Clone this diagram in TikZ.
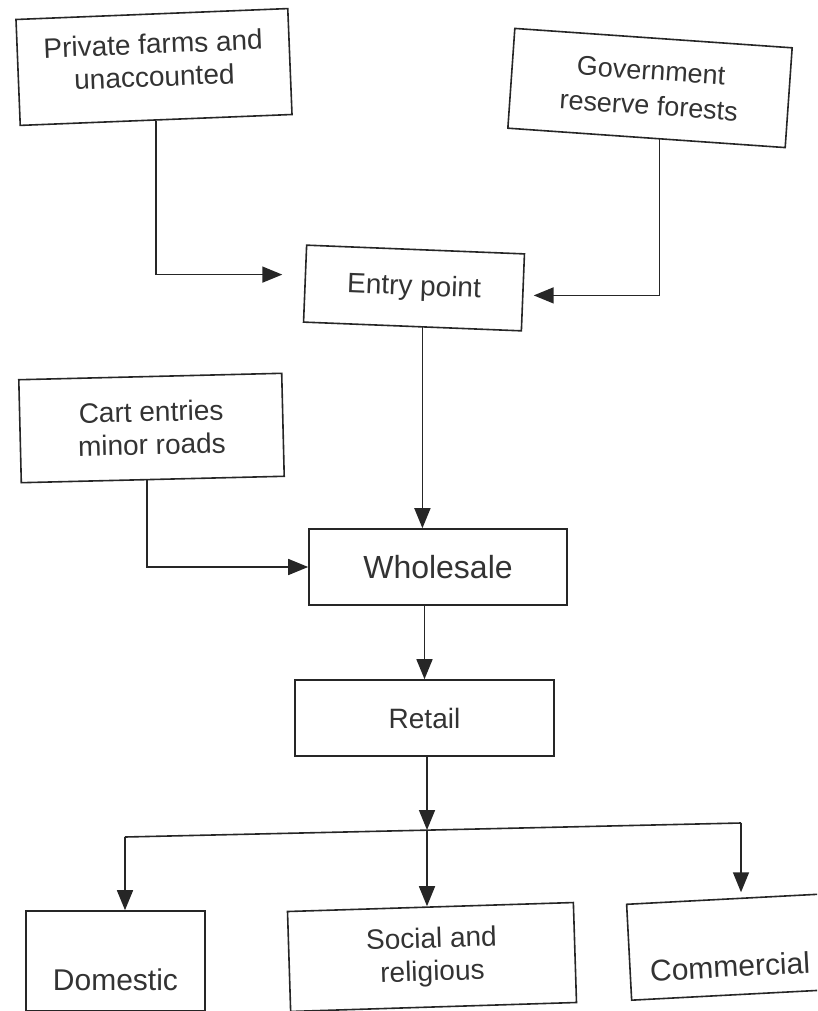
\documentclass[tikz,border=0pt]{standalone}
\usepackage{fontspec}
\setmainfont{Liberation Sans}
\usetikzlibrary{arrows.meta,calc}
\begin{document}
\begin{tikzpicture}[x=1pt,y=-1pt,
  box/.style={draw=black!85, line width=1.6pt, rectangle, align=center, text=black!80,
              font=\fontsize{28}{33}\selectfont, inner sep=2pt},
  conn/.style={draw=black!85, line width=1.6pt},
  arr/.style={conn, -{Triangle[length=20pt,width=16pt]}}]
\useasboundingbox (0,0) rectangle (817,1011);
\clip (0,0) rectangle (817,1011);

\node[box, minimum width=272pt, minimum height=106pt, rotate=2.3, text depth=14pt] (pf) at (154,67) {Private farms and\\unaccounted};
\node[box, minimum width=278pt, minimum height=100pt, rotate=-4, font=\fontsize{27}{35}\selectfont] (gov) at (650,88) {Government\\reserve forests};
\node[box, minimum width=218pt, minimum height=77pt, rotate=-2.3] (ep) at (414,288) {Entry point};
\node[box, minimum width=263pt, minimum height=103pt, rotate=1.4] (cart) at (151.5,428) {Cart entries\\minor roads};
\node[box, minimum width=258pt, minimum height=76pt, font=\fontsize{32}{38}\selectfont] (ws) at (438,567) {Wholesale};
\node[box, minimum width=259pt, minimum height=76pt] (rt) at (424.5,718) {Retail};
\node[box, minimum width=179pt, minimum height=100pt, font=\fontsize{30}{35}\selectfont, text height=58pt, text depth=0pt] (dom) at (115.5,961) {Domestic};
\node[box, minimum width=286pt, minimum height=100pt, rotate=1.8] (soc) at (432,957) {Social and\\religious};
\node[box, minimum width=200pt, minimum height=96pt, rotate=3, font=\fontsize{30}{35}\selectfont, text height=60pt, text depth=0pt] (com) at (729,947) {Commercial};

% connectors
\draw[arr, shorten >=22pt] (pf.south) |- ([yshift=9pt]ep.west);
\coordinate (g1) at ([xshift=13pt]gov.south);
\draw[arr, shorten >=10pt] (g1) |- ([yshift=-3pt]ep.east);
\coordinate (e1) at ([xshift=10pt]ep.south);
\draw[arr] (e1) -- (e1 |- ws.north);
\coordinate (c1) at ([xshift=-6pt]cart.south);
\draw[arr] (c1) |- (ws.west);
\draw[arr] (ws.south -| rt.north) -- (rt.north);

\coordinate (bl) at (125,837);
\coordinate (br) at (741,823);
\coordinate (bm) at (427,830);
\draw[arr] (rt.south -| bm) -- (bm);
\draw[conn] (bl) -- (br);
\draw[arr] (bl) -- (bl |- dom.north);
\draw[arr] (bm) -- (bm |- soc.north);
\draw[arr, shorten >=6pt] (br) -- (br |- com.north);
\end{tikzpicture}
\end{document}
